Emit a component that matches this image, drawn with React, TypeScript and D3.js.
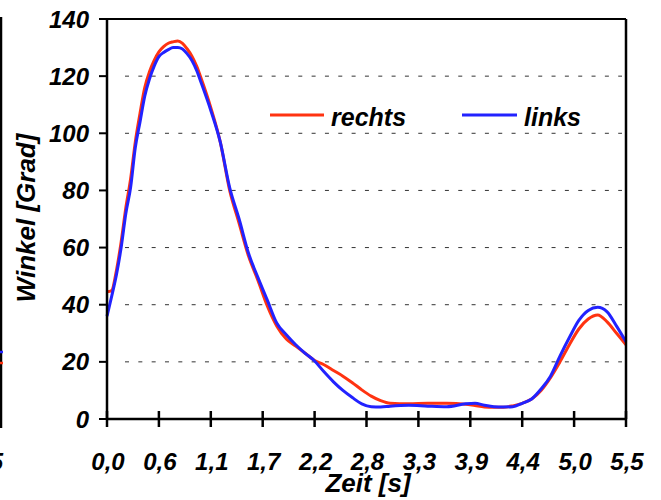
import React from "react";
import * as d3 from "d3";

// Knee angle over time, right and left leg
const timeS = [
  0, 0.05, 0.1, 0.15, 0.2, 0.25, 0.3, 0.35, 0.4, 0.45, 0.5, 0.55, 0.6, 0.65, 0.7, 0.75,
  0.8, 0.85, 0.9, 0.95, 1.0, 1.1, 1.2, 1.3, 1.4, 1.5, 1.6, 1.7, 1.8, 1.9, 2.0, 2.1, 2.2,
  2.3, 2.4, 2.5, 2.6, 2.7, 2.8, 2.9, 3.0, 3.2, 3.4, 3.6, 3.8, 3.9, 4.0, 4.1, 4.2, 4.3,
  4.4, 4.5, 4.6, 4.7, 4.8, 4.9, 5.0, 5.1, 5.2, 5.3, 5.4, 5.5,
];

const rechts = [
  44.5, 45, 52, 62, 74, 84, 97, 107, 116, 121.5, 125.5, 128.5, 130.3, 131.5, 132, 132.3,
  131.5, 129.5, 127, 123.5, 119, 109, 97, 80, 68.5, 57, 48.5, 39.5, 32.5, 28, 25.5, 23, 20.5,
  19, 17, 15, 12.7, 10.2, 8, 6.4, 5.5, 5.3, 5.5, 5.5, 5.2, 4.7, 4.2, 4.1, 4.1, 4.6,
  5.5, 7, 10, 14.5, 20, 26, 31.5, 35, 36.4, 34, 30, 26,
];

const links = [
  36, 43, 50.5, 60, 72, 81, 95, 104, 113, 119, 123.5, 126.8, 128.3, 129.3, 130, 130,
  129.5, 127.8, 125.5, 122, 117.5, 108, 97, 81, 70, 58, 49.5, 41.5, 33.5, 29.5, 26, 23, 20.3,
  16.5, 13, 10, 7.5, 5.3, 4.3, 4.2, 4.5, 4.8, 4.5, 4.3, 5.3, 5.5, 4.8, 4.3, 4.2, 4.3,
  5.5, 7, 10.5, 15, 22, 28.5, 34.5, 38, 39.1, 37.5, 32.5, 27,
];

const xTicks = [0, 0.55, 1.1, 1.65, 2.2, 2.75, 3.3, 3.85, 4.4, 4.95, 5.5];
const xTickLabels = ["0,0", "0,6", "1,1", "1,7", "2,2", "2,8", "3,3", "3,9", "4,4", "5,0", "5,5"];
const yTicks = [0, 20, 40, 60, 80, 100, 120, 140];
const gridValues = [20, 40, 60, 80, 100, 120];

const seriesNames = ["rechts", "links"];
const seriesColors = ["#ff3311", "#2222ff"];

const FONT = "'Liberation Sans', Arial, Helvetica, sans-serif";

export default function App() {
  const width = 661;
  const height = 500;
  const left = 107;
  const right = 626;
  const top = 19;
  const bottom = 419;

  const x = d3.scaleLinear().domain([0, 5.5]).range([left, right]);
  const y = d3.scaleLinear().domain([0, 140]).range([bottom, top]);

  const line = d3
    .line<number>()
    .x((_, i) => x(timeS[i]))
    .y((d) => y(d))
    .curve(d3.curveMonotoneX);

  const series = [rechts, links];

  const textStyle = {
    fontFamily: FONT,
    fontWeight: "bold" as const,
    fontStyle: "italic" as const,
    fill: "#000",
  };

  return (
    <svg
      width={width}
      height={height}
      style={{ position: "absolute", left: 0, top: 0, background: "#fff" }}
    >
      <rect x={0} y={0} width={width} height={height} fill="#fff" />

      {/* edge of the neighbouring panel */}
      <line x1={1} x2={1} y1={17} y2={428} stroke="#000" strokeWidth={2.5} />
      <line x1={0} x2={3} y1={352} y2={352} stroke={seriesColors[1]} strokeWidth={2.5} />
      <line x1={0} x2={3} y1={363} y2={363} stroke={seriesColors[0]} strokeWidth={2.5} />
      <text x={3} y={470} textAnchor="end" fontSize={24} style={textStyle}>
        5,5
      </text>

      {/* dashed grid */}
      {gridValues.map((v) => (
        <line
          key={`g${v}`}
          x1={left + 18}
          x2={right - 4}
          y1={y(v)}
          y2={y(v)}
          stroke="#333"
          strokeWidth={1}
          strokeDasharray="4 9.33"
        />
      ))}

      {/* series */}
      {series.map((s, i) => (
        <path
          key={seriesNames[i]}
          d={line(s) || ""}
          fill="none"
          stroke={seriesColors[i]}
          strokeWidth={3}
          strokeLinejoin="round"
        />
      ))}

      {/* frame */}
      <line x1={left} x2={right} y1={top} y2={top} stroke="#000" strokeWidth={2} />
      <line x1={right} x2={right} y1={top} y2={bottom} stroke="#000" strokeWidth={2.5} />
      <line x1={left} x2={left} y1={top} y2={bottom} stroke="#000" strokeWidth={2.5} />
      <line x1={left - 1} x2={right + 1} y1={bottom} y2={bottom} stroke="#000" strokeWidth={2.5} />

      {/* y ticks */}
      {yTicks.map((v) => (
        <g key={`y${v}`}>
          <line x1={left - 8} x2={left} y1={y(v)} y2={y(v)} stroke="#000" strokeWidth={2} />
          <text x={89} y={y(v) + 8.5} textAnchor="end" fontSize={24} style={textStyle}>
            {v}
          </text>
        </g>
      ))}

      {/* x ticks */}
      {xTicks.map((t, i) => (
        <g key={`x${i}`}>
          <line x1={x(t)} x2={x(t)} y1={bottom - 8} y2={bottom + 8} stroke="#000" strokeWidth={2.5} />
          <text x={x(t) + 1} y={470} textAnchor="middle" fontSize={24} style={textStyle}>
            {xTickLabels[i]}
          </text>
        </g>
      ))}

      {/* axis titles */}
      <text x={368} y={492} textAnchor="middle" fontSize={26} style={textStyle}>
        Zeit [s]
      </text>
      <text
        transform={`translate(35, 218) rotate(-90)`}
        textAnchor="middle"
        fontSize={26}
        style={textStyle}
      >
        Winkel [Grad]
      </text>

      {/* legend */}
      <line x1={270} x2={324} y1={115} y2={115} stroke={seriesColors[0]} strokeWidth={3} />
      <text x={331} y={126} fontSize={25} style={textStyle}>
        {seriesNames[0]}
      </text>
      <line x1={462} x2={517} y1={115} y2={115} stroke={seriesColors[1]} strokeWidth={3} />
      <text x={524} y={126} fontSize={25} style={textStyle}>
        {seriesNames[1]}
      </text>
    </svg>
  );
}
